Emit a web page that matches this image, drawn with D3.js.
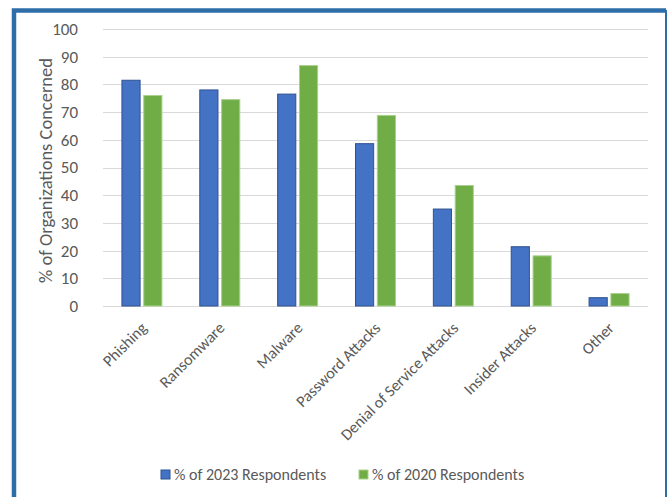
<!DOCTYPE html>
<html>

<head>
    <meta charset="utf-8">
    <title>attack concerns</title>
    <script src="https://d3js.org/d3.v7.min.js"></script>
    <style>
        body {
            margin: 0;
            background: white;
        }

        svg text {
            font-family: Calibri, Carlito, "Open Sans", sans-serif;
            fill: #595959;
        }

        .grid line {
            stroke: #d9d9d9;
            stroke-width: 1px;
        }

        .bar2023 {
            fill: #4472c4;
            stroke: #2f528f;
            stroke-width: 1px;
        }

        .bar2020 {
            fill: #70ad47;
            stroke: #a9d18e;
            stroke-width: 1px;
        }
    </style>
</head>

<body>
    <script>
        // data
        let categories = ["Phishing", "Ransomware", "Malware", "Password Attacks",
            "Denial of Service Attacks", "Insider Attacks", "Other"];
        let resp2023 = [81.5, 78, 76.5, 58.6, 35, 21.4, 3];
        let resp2020 = [76, 74.5, 86.8, 68.8, 43.5, 18.1, 4.5];
        let seriesNames = ["% of 2023 Respondents", "% of 2020 Respondents"];
        let yTicks = [0, 10, 20, 30, 40, 50, 60, 70, 80, 90, 100];

        let width = 668;
        let height = 497;
        let plotLeft = 103, plotRight = 648, plotTop = 29, plotBottom = 306;

        let svg = d3.select("body").append("svg")
            .attr("width", width)
            .attr("height", height);

        // frame round the chart
        svg.append("path")
            .attr("d", "M14," + height + " V10.5 H666")
            .attr("fill", "none")
            .attr("stroke", "#2e6ea8")
            .attr("stroke-width", 4.5);
        svg.append("line")
            .attr("x1", 666).attr("x2", 666)
            .attr("y1", 10).attr("y2", height)
            .attr("stroke", "#2e6ea8")
            .attr("stroke-width", 2);

        let x = d3.scaleBand()
            .domain(categories)
            .range([plotLeft, plotRight]);

        let y = d3.scaleLinear()
            .domain([0, 100])
            .range([plotBottom, plotTop]);

        // gridlines
        svg.append("g")
            .attr("class", "grid")
            .selectAll("line")
            .data(yTicks)
            .join("line")
            .attr("x1", plotLeft)
            .attr("x2", plotRight)
            .attr("y1", d => Math.round(y(d)) + 0.5)
            .attr("y2", d => Math.round(y(d)) + 0.5);

        // y axis labels
        let yAxis = d3.axisLeft(y).tickValues(yTicks).tickSize(0).tickPadding(0);
        let yg = svg.append("g")
            .attr("transform", "translate(78,0)")
            .call(yAxis);
        yg.select(".domain").remove();
        yg.selectAll("text").style("font-size", "17px");

        svg.append("text")
            .attr("transform", "translate(52," + ((plotTop + plotBottom) / 2 + 3) + ") rotate(-90)")
            .attr("text-anchor", "middle")
            .style("font-size", "18.5px")
            .text("% of Organizations Concerned");

        // bars
        let barW = 18, gap = 5;
        let inner = d3.scaleBand()
            .domain([0, 1])
            .range([0, barW * 2 + gap])
            .paddingInner(gap / (barW * 2 + gap));

        let groups = svg.append("g")
            .selectAll("g")
            .data(categories)
            .join("g")
            .attr("transform", d => "translate(" + (x(d) + x.bandwidth() / 2 - (barW * 2 + gap) / 2) + ",0)");

        groups.append("rect")
            .attr("class", "bar2023")
            .attr("x", inner(0) + 0.5)
            .attr("y", (d, i) => y(resp2023[i]))
            .attr("width", inner.bandwidth() - 1)
            .attr("height", (d, i) => y(0) - y(resp2023[i]));

        groups.append("rect")
            .attr("class", "bar2020")
            .attr("x", inner(1) + 0.5)
            .attr("y", (d, i) => y(resp2020[i]))
            .attr("width", inner.bandwidth() - 1)
            .attr("height", (d, i) => y(0) - y(resp2020[i]));

        // x axis labels, rotated
        let xAxis = d3.axisBottom(x).tickSize(0).tickPadding(0);
        let xg = svg.append("g")
            .attr("transform", "translate(0," + plotBottom + ")")
            .call(xAxis);
        xg.select(".domain").remove();
        xg.selectAll("text")
            .style("font-size", "16px")
            .attr("text-anchor", "end")
            .attr("dy", "0.35em")
            .attr("transform", "translate(2,19) rotate(-45)");

        // legend
        let legendX = [161, 359];
        let legend = svg.append("g")
            .selectAll("g")
            .data(seriesNames)
            .join("g")
            .attr("transform", (d, i) => "translate(" + legendX[i] + ",470)");
        legend.append("rect")
            .attr("width", 9)
            .attr("height", 9)
            .attr("class", (d, i) => i == 0 ? "bar2023" : "bar2020");
        legend.append("text")
            .attr("x", 13)
            .attr("y", 4.5)
            .attr("dy", "0.35em")
            .style("font-size", "16px")
            .text(d => d);
    </script>
</body>

</html>
